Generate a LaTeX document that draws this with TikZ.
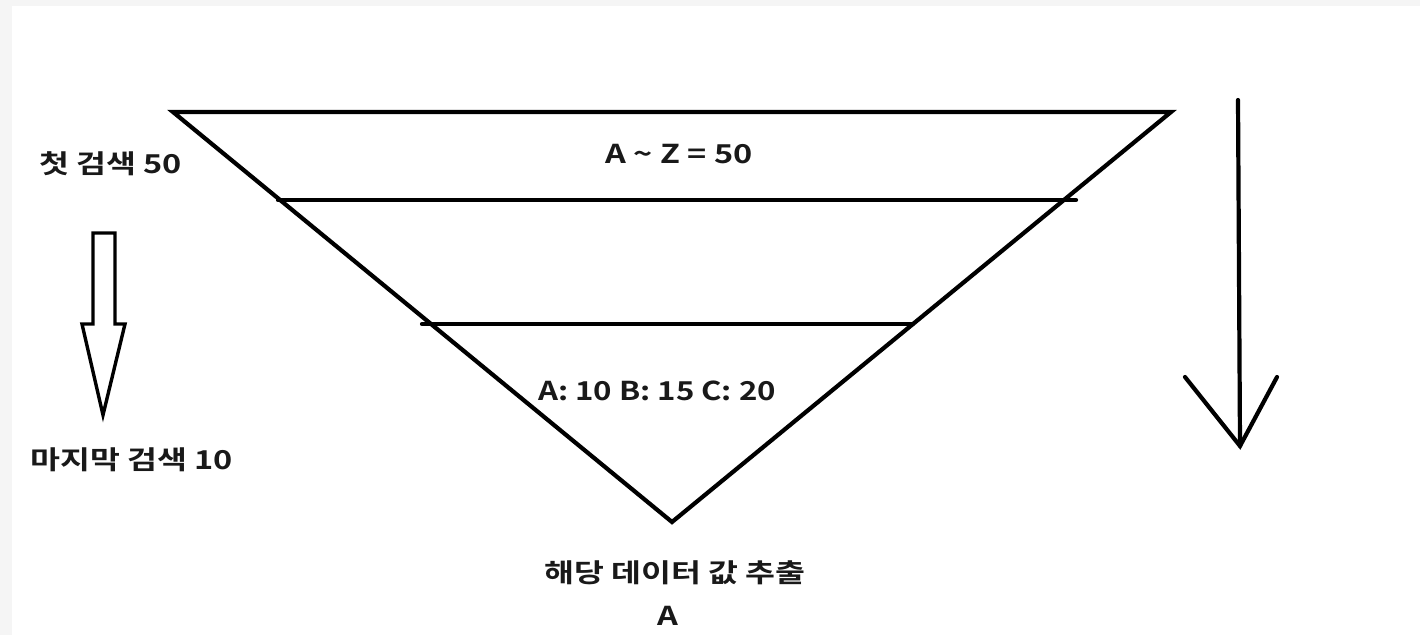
\documentclass[tikz,border=0pt]{standalone}
\usepackage{fontspec}
\setmainfont{Noto Sans CJK KR}[BoldFont={* Bold}]
\newfontfamily\krbold{Noto Sans CJK KR Bold}
\newcommand{\wide}[1]{\scalebox{1.25}[1]{#1}}
\begin{document}
\begin{tikzpicture}[x=1pt,y=-1pt,
  stroke/.style={line width=4.2pt,line join=miter,line cap=round},
  thin stroke/.style={line width=3.4pt,line join=miter},
  lbl/.style={font=\krbold\fontsize{26}{28}\selectfont,inner sep=0pt,text=black!90}]
\useasboundingbox (0,0) rectangle (1420,635);
\fill[black!4] (0,0) rectangle (1420,635);
\fill[white] (12,6) rectangle (1420,635);
% funnel
\coordinate (tl) at (173,112);
\coordinate (tr) at (1171,112);
\coordinate (ap) at (672,522);
\draw[stroke] (tl) -- (tr) -- (ap) -- cycle;
\coordinate (l1a) at (278,200);
\coordinate (l1b) at (1076,200);
\coordinate (l2a) at (422,324);
\coordinate (l2b) at (913,324);
\draw[stroke] (l1a) -- (l1b);
\draw[stroke] (l2a) -- (l2b);
% texts
\node[lbl] (az) at (679,154) {\wide{A \textasciitilde{} Z = 50}};
\node[lbl] (abc) at (657,391) {\scalebox{1.2}[1]{A: 10 B: 15 C: 20}};
\node[lbl,anchor=west] (first) at (39,164) {\wide{첫 검색 50}};
\node[lbl,anchor=west] (last) at (30,460) {\wide{마지막 검색 10}};
\node[lbl] (extract) at (675,573) {\wide{해당 데이터 값 추출}};
\node[lbl] (res) at (668,616) {\wide{A}};
% block arrow
\draw[thin stroke] (93,233) -- (115,233) -- (115,324) -- (125,324) -- (103,415) -- (82,324) -- (93,324) -- cycle;
% right arrow
\coordinate (rt) at (1238,100);
\coordinate (rb) at (1240,446);
\coordinate (rl) at (1185,377);
\coordinate (rr) at (1277,377);
\draw[stroke] (rt) -- (rb);
\draw[stroke] (rl) -- (rb) -- (rr);
\end{tikzpicture}
\end{document}
